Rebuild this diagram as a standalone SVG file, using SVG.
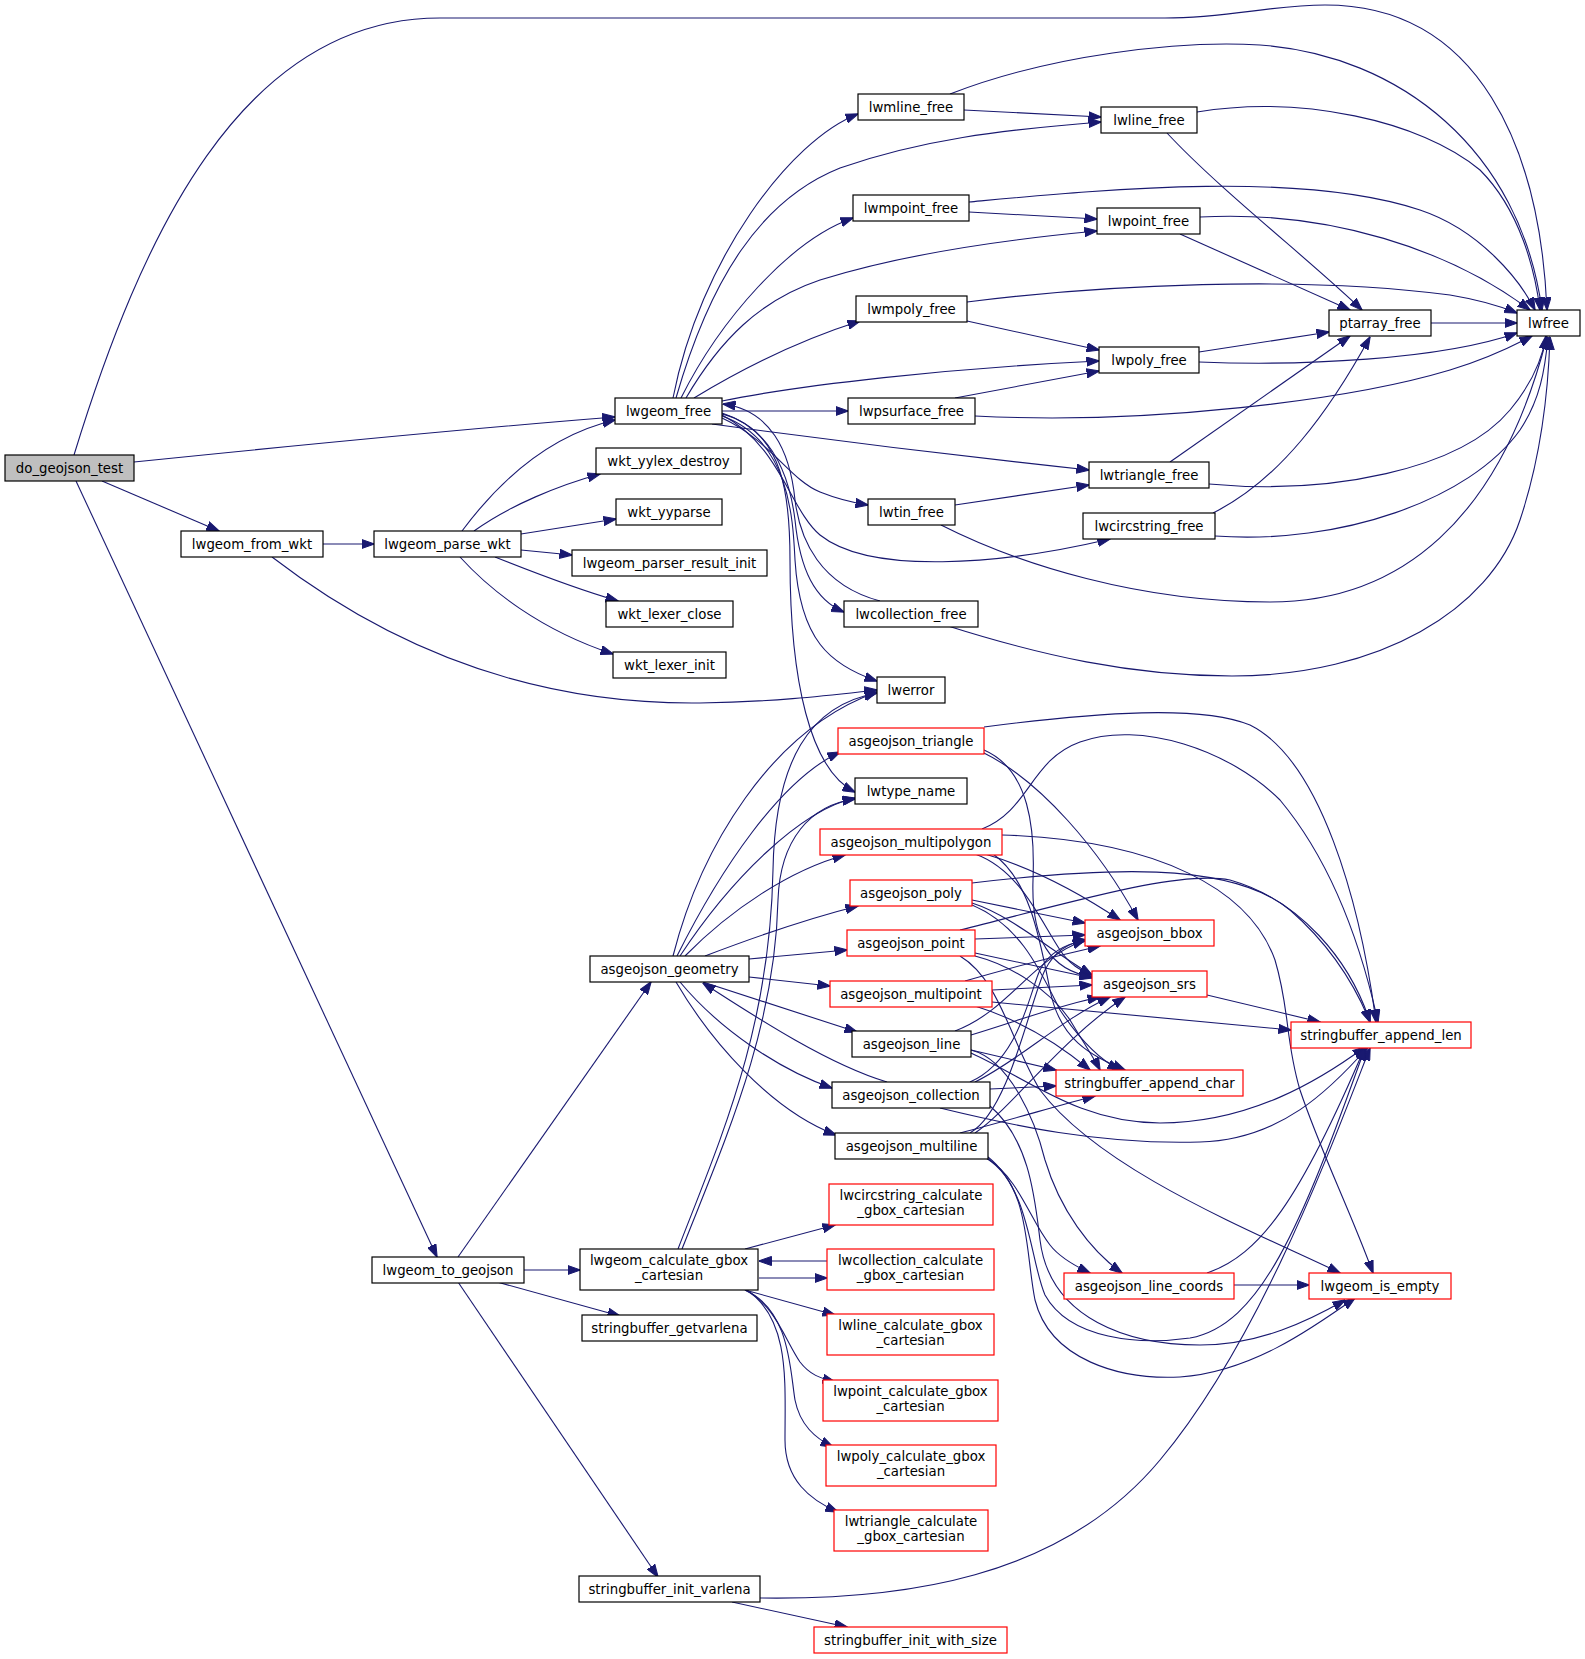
<svg xmlns="http://www.w3.org/2000/svg" width="1585" height="1659" viewBox="0 0 1585 1659">
<style>
.n rect{fill:#ffffff;stroke:#000000;stroke-width:1.2}
.r rect{fill:#ffffff;stroke:#ff0000;stroke-width:1.2}
.root rect{fill:#bfbfbf;stroke:#000000;stroke-width:1.2}
text{font-family:"DejaVu Sans","Liberation Sans",sans-serif;font-size:13.3px;text-anchor:middle;fill:#000}
#edges path{fill:none;stroke:#191970;stroke-width:1.1;marker-end:url(#a)}
</style>
<defs>
<marker id="a" viewBox="0 0 13 10" refX="12.5" refY="5" markerWidth="13" markerHeight="10" markerUnits="userSpaceOnUse" orient="auto">
<path d="M0,0.4 L13,5 L0,9.6 z" fill="#191970" stroke="#191970" stroke-width="1"/>
</marker>
</defs>
<rect width="1585" height="1659" fill="#ffffff"/>
<g id="edges">
<path d="M74,455 C140,240 240,18 440,18 L1165,18 C1230,18 1270,5 1325,5 C1480,5 1540,150 1547,310"/>
<path d="M134,462 C300,445 450,430 615,417"/>
<path d="M102,481 L219,531"/>
<path d="M76,481 L437,1257"/>
<path d="M323,544 L374,544"/>
<path d="M272,557 C380,640 520,705 700,703 C780,702 840,694 877,690"/>
<path d="M462,531 C500,480 550,435 615,420"/>
<path d="M474,531 C510,505 560,485 600,474"/>
<path d="M521,534 L616,519"/>
<path d="M521,550 L572,555"/>
<path d="M495,557 C540,575 580,590 618,601"/>
<path d="M460,557 C490,590 540,630 613,654"/>
<path d="M673,398 C700,260 790,140 858,114"/>
<path d="M676,398 C710,280 760,200 840,168 C920,140 1000,130 1101,122"/>
<path d="M681,398 C720,320 790,240 853,218"/>
<path d="M686,398 C720,340 760,300 820,280 C900,255 1000,240 1097,231"/>
<path d="M694,398 C740,370 800,340 860,321"/>
<path d="M722,401 C800,385 950,368 1099,361"/>
<path d="M722,411 L848,411"/>
<path d="M712,424 C800,436 950,455 1089,470"/>
<path d="M722,418 C770,440 790,480 820,492 C840,500 855,503 868,505"/>
<path d="M722,415 C780,445 790,510 820,535 C870,575 1000,565 1110,539"/>
<path d="M722,413 C775,430 790,480 795,520 C800,570 815,600 844,612"/>
<path d="M722,416 C790,440 793,520 795,560 C800,640 830,665 877,681"/>
<path d="M722,414 C785,430 790,500 790,560 C790,680 810,770 855,792"/>
<path d="M880,601 C820,585 800,540 795,500 C790,450 770,410 723,404"/>
<path d="M950,94 C1050,55 1180,40 1260,45 C1400,55 1520,150 1542,310"/>
<path d="M964,110 L1101,117"/>
<path d="M1197,112 C1300,95 1420,120 1480,170 C1520,210 1535,270 1540,310"/>
<path d="M1167,133 C1220,190 1310,260 1362,310"/>
<path d="M969,202 C1100,190 1300,170 1420,210 C1480,230 1520,280 1535,310"/>
<path d="M969,212 L1097,219"/>
<path d="M1200,217 C1330,210 1450,250 1530,310"/>
<path d="M1180,234 L1350,310"/>
<path d="M967,302 C1100,285 1300,275 1450,295 C1480,300 1500,306 1517,313"/>
<path d="M967,321 L1099,350"/>
<path d="M1431,323 L1517,323"/>
<path d="M1199,352 L1329,332"/>
<path d="M1199,362 C1300,366 1440,360 1517,333"/>
<path d="M955,398 L1099,371"/>
<path d="M975,416 C1150,425 1350,400 1450,370 C1490,358 1515,345 1532,336"/>
<path d="M1170,462 L1350,336"/>
<path d="M1209,484 C1330,495 1460,470 1510,410 C1535,380 1543,355 1546,336"/>
<path d="M955,505 L1089,485"/>
<path d="M941,525 C1020,565 1140,602 1270,602 C1400,602 1500,520 1547,337"/>
<path d="M1213,513 C1280,480 1330,410 1370,337"/>
<path d="M1215,536 C1340,545 1470,500 1520,430 C1540,400 1545,370 1548,337"/>
<path d="M948,626 C1040,655 1130,676 1232,676 C1380,676 1490,610 1520,520 C1540,460 1548,400 1550,337"/>
<path d="M673,956 C700,850 770,730 877,692"/>
<path d="M677,956 C720,870 780,780 840,752"/>
<path d="M680,956 C730,880 800,810 855,798"/>
<path d="M685,956 C730,910 790,870 845,855"/>
<path d="M705,956 C760,935 810,918 858,906"/>
<path d="M749,959 L847,950"/>
<path d="M749,977 L830,986"/>
<path d="M703,982 L857,1032"/>
<path d="M680,982 C720,1030 780,1070 832,1088"/>
<path d="M676,982 C710,1040 770,1110 836,1135"/>
<path d="M887,1082 C830,1065 760,1020 703,983"/>
<path d="M458,1257 L651,982"/>
<path d="M524,1270 L580,1270"/>
<path d="M497,1282 L620,1316"/>
<path d="M458,1282 L658,1577"/>
<path d="M732,1602 L847,1627"/>
<path d="M760,1598 C900,1600 1060,1580 1160,1460 C1260,1340 1330,1150 1370,1048"/>
<path d="M745,1249 L835,1225"/>
<path d="M759,1278 L827,1278"/>
<path d="M827,1261 L759,1261"/>
<path d="M745,1290 L835,1315"/>
<path d="M745,1290 C775,1305 785,1340 800,1362 C810,1375 820,1378 835,1382"/>
<path d="M745,1290 C790,1310 790,1370 795,1400 C800,1425 815,1438 833,1447"/>
<path d="M747,1290 C790,1320 785,1380 785,1440 C785,1480 810,1500 838,1512"/>
<path d="M678,1249 C720,1140 770,1030 773,870 C775,760 810,705 877,693"/>
<path d="M682,1249 C725,1140 775,1030 778,900 C780,840 810,805 855,799"/>
<path d="M984,727 C1100,712 1200,705 1250,725 C1320,760 1360,900 1376,1022"/>
<path d="M982,752 C1040,780 1100,850 1138,920"/>
<path d="M984,750 C1030,770 1035,830 1033,880 C1031,940 1050,970 1092,977"/>
<path d="M982,829 C1030,810 1030,760 1080,742 C1140,720 1230,750 1280,800 C1330,860 1360,940 1378,1022"/>
<path d="M1002,835 C1160,840 1250,890 1275,960 C1290,1010 1285,1040 1300,1090 C1320,1150 1350,1210 1373,1273"/>
<path d="M985,854 C1040,870 1090,900 1120,920"/>
<path d="M975,854 C1020,870 1040,920 1060,950 C1070,965 1080,970 1092,975"/>
<path d="M993,854 C1030,880 1040,940 1050,990 C1060,1040 1090,1055 1125,1070"/>
<path d="M972,883 C1100,868 1230,860 1290,910 C1330,945 1355,985 1370,1022"/>
<path d="M972,900 L1085,923"/>
<path d="M972,903 C1010,915 1050,950 1092,975"/>
<path d="M972,905 C1020,925 1040,970 1060,1010 C1080,1040 1100,1060 1120,1070"/>
<path d="M960,930 C1080,900 1180,870 1230,880 C1300,900 1350,960 1370,1022"/>
<path d="M975,939 L1085,935"/>
<path d="M975,953 L1092,978"/>
<path d="M975,956 C1010,965 1050,990 1070,1020 C1085,1045 1095,1060 1100,1070"/>
<path d="M960,956 C1000,980 1010,1040 1040,1090 C1100,1170 1250,1230 1340,1273"/>
<path d="M965,981 C1020,965 1060,955 1100,946"/>
<path d="M992,990 L1092,985"/>
<path d="M992,1002 C1100,1012 1200,1022 1291,1030"/>
<path d="M975,1006 C1020,1020 1060,1045 1090,1070"/>
<path d="M955,1031 C1010,1010 1030,960 1085,940"/>
<path d="M971,1035 C1020,1020 1060,1005 1100,997"/>
<path d="M971,1050 L1056,1070"/>
<path d="M971,1053 C1030,1080 1080,1123 1160,1123 C1250,1123 1320,1080 1365,1047"/>
<path d="M971,1050 C1010,1060 1035,1120 1045,1160 C1060,1210 1090,1250 1122,1273"/>
<path d="M990,1089 L1056,1086"/>
<path d="M970,1082 C1020,1060 1030,990 1040,970 C1050,950 1070,943 1086,940"/>
<path d="M975,1082 C1020,1060 1060,1020 1110,997"/>
<path d="M940,1108 C1010,1125 1100,1145 1200,1142 C1280,1140 1330,1090 1368,1047"/>
<path d="M990,1106 C1030,1140 1035,1200 1040,1240 C1050,1320 1130,1345 1200,1345 C1260,1345 1310,1320 1345,1300"/>
<path d="M987,1158 C1020,1180 1030,1220 1050,1245 C1060,1258 1075,1266 1090,1273"/>
<path d="M986,1158 C1030,1185 1025,1250 1035,1300 C1050,1360 1120,1380 1180,1377 C1250,1372 1310,1330 1355,1298"/>
<path d="M988,1157 C1030,1190 1030,1260 1045,1295 C1070,1340 1140,1345 1190,1338 C1260,1325 1300,1230 1365,1048"/>
<path d="M975,1133 C1010,1110 1060,1040 1125,997"/>
<path d="M970,1133 C1010,1110 1030,1000 1045,970 C1055,950 1070,942 1087,940"/>
<path d="M960,1133 C1010,1120 1060,1105 1095,1096"/>
<path d="M1207,995 L1320,1022"/>
<path d="M1234,1285 L1309,1285"/>
<path d="M1207,1273 C1260,1255 1300,1200 1365,1047"/>
</g>
<g id="do_geojson_test" class="root"><rect x="5" y="455" width="129" height="26"/><text x="69.5" y="472.5">do_geojson_test</text></g>
<g id="lwgeom_free" class="n"><rect x="615" y="398" width="107" height="26"/><text x="668.5" y="415.5">lwgeom_free</text></g>
<g id="wkt_yylex_destroy" class="n"><rect x="596" y="448" width="145" height="26"/><text x="668.5" y="465.5">wkt_yylex_destroy</text></g>
<g id="wkt_yyparse" class="n"><rect x="616" y="499" width="106" height="26"/><text x="669" y="516.5">wkt_yyparse</text></g>
<g id="lwgeom_parser_result_init" class="n"><rect x="572" y="550" width="195" height="26"/><text x="669.5" y="567.5">lwgeom_parser_result_init</text></g>
<g id="wkt_lexer_close" class="n"><rect x="606" y="601" width="127" height="26"/><text x="669.5" y="618.5">wkt_lexer_close</text></g>
<g id="wkt_lexer_init" class="n"><rect x="613" y="652" width="113" height="26"/><text x="669.5" y="669.5">wkt_lexer_init</text></g>
<g id="lwgeom_from_wkt" class="n"><rect x="181" y="531" width="142" height="26"/><text x="252" y="548.5">lwgeom_from_wkt</text></g>
<g id="lwgeom_parse_wkt" class="n"><rect x="374" y="531" width="147" height="26"/><text x="447.5" y="548.5">lwgeom_parse_wkt</text></g>
<g id="lwmline_free" class="n"><rect x="858" y="94" width="106" height="26"/><text x="911" y="111.5">lwmline_free</text></g>
<g id="lwline_free" class="n"><rect x="1101" y="107" width="96" height="26"/><text x="1149" y="124.5">lwline_free</text></g>
<g id="lwmpoint_free" class="n"><rect x="853" y="195" width="116" height="26"/><text x="911" y="212.5">lwmpoint_free</text></g>
<g id="lwpoint_free" class="n"><rect x="1097" y="208" width="103" height="26"/><text x="1148.5" y="225.5">lwpoint_free</text></g>
<g id="lwmpoly_free" class="n"><rect x="856" y="296" width="111" height="26"/><text x="911.5" y="313.5">lwmpoly_free</text></g>
<g id="ptarray_free" class="n"><rect x="1329" y="310" width="102" height="26"/><text x="1380" y="327.5">ptarray_free</text></g>
<g id="lwfree" class="n"><rect x="1517" y="310" width="63" height="26"/><text x="1548.5" y="327.5">lwfree</text></g>
<g id="lwpoly_free" class="n"><rect x="1099" y="347" width="100" height="26"/><text x="1149" y="364.5">lwpoly_free</text></g>
<g id="lwpsurface_free" class="n"><rect x="848" y="398" width="127" height="26"/><text x="911.5" y="415.5">lwpsurface_free</text></g>
<g id="lwtriangle_free" class="n"><rect x="1089" y="462" width="120" height="26"/><text x="1149" y="479.5">lwtriangle_free</text></g>
<g id="lwtin_free" class="n"><rect x="868" y="499" width="87" height="26"/><text x="911.5" y="516.5">lwtin_free</text></g>
<g id="lwcircstring_free" class="n"><rect x="1083" y="513" width="132" height="26"/><text x="1149" y="530.5">lwcircstring_free</text></g>
<g id="lwcollection_free" class="n"><rect x="844" y="601" width="134" height="26"/><text x="911" y="618.5">lwcollection_free</text></g>
<g id="lwerror" class="n"><rect x="877" y="677" width="68" height="26"/><text x="911" y="694.5">lwerror</text></g>
<g id="asgeojson_triangle" class="r"><rect x="838" y="728" width="146" height="26"/><text x="911" y="745.5">asgeojson_triangle</text></g>
<g id="lwtype_name" class="n"><rect x="855" y="778" width="112" height="26"/><text x="911" y="795.5">lwtype_name</text></g>
<g id="asgeojson_multipolygon" class="r"><rect x="820" y="829" width="182" height="26"/><text x="911" y="846.5">asgeojson_multipolygon</text></g>
<g id="asgeojson_poly" class="r"><rect x="850" y="880" width="122" height="26"/><text x="911" y="897.5">asgeojson_poly</text></g>
<g id="asgeojson_point" class="r"><rect x="847" y="930" width="128" height="26"/><text x="911" y="947.5">asgeojson_point</text></g>
<g id="asgeojson_geometry" class="n"><rect x="590" y="956" width="159" height="26"/><text x="669.5" y="973.5">asgeojson_geometry</text></g>
<g id="asgeojson_multipoint" class="r"><rect x="830" y="981" width="162" height="26"/><text x="911" y="998.5">asgeojson_multipoint</text></g>
<g id="asgeojson_line" class="n"><rect x="852" y="1031" width="119" height="26"/><text x="911.5" y="1048.5">asgeojson_line</text></g>
<g id="asgeojson_collection" class="n"><rect x="832" y="1082" width="158" height="26"/><text x="911" y="1099.5">asgeojson_collection</text></g>
<g id="asgeojson_multiline" class="n"><rect x="835" y="1133" width="153" height="26"/><text x="911.5" y="1150.5">asgeojson_multiline</text></g>
<g id="lwcircstring_calculate_gbox_cartesian" class="r"><rect x="829" y="1184" width="164" height="41"/><text x="911" y="1200">lwcircstring_calculate</text><text x="911" y="1215">_gbox_cartesian</text></g>
<g id="lwcollection_calculate_gbox_cartesian" class="r"><rect x="827" y="1249" width="167" height="41"/><text x="910.5" y="1265">lwcollection_calculate</text><text x="910.5" y="1280">_gbox_cartesian</text></g>
<g id="lwline_calculate_gbox_cartesian" class="r"><rect x="827" y="1314" width="167" height="41"/><text x="910.5" y="1330">lwline_calculate_gbox</text><text x="910.5" y="1345">_cartesian</text></g>
<g id="lwpoint_calculate_gbox_cartesian" class="r"><rect x="823" y="1380" width="175" height="41"/><text x="910.5" y="1396">lwpoint_calculate_gbox</text><text x="910.5" y="1411">_cartesian</text></g>
<g id="lwpoly_calculate_gbox_cartesian" class="r"><rect x="826" y="1445" width="170" height="41"/><text x="911" y="1461">lwpoly_calculate_gbox</text><text x="911" y="1476">_cartesian</text></g>
<g id="lwtriangle_calculate_gbox_cartesian" class="r"><rect x="834" y="1510" width="154" height="41"/><text x="911" y="1526">lwtriangle_calculate</text><text x="911" y="1541">_gbox_cartesian</text></g>
<g id="lwgeom_calculate_gbox_cartesian" class="n"><rect x="580" y="1249" width="178" height="41"/><text x="669" y="1265">lwgeom_calculate_gbox</text><text x="669" y="1280">_cartesian</text></g>
<g id="stringbuffer_getvarlena" class="n"><rect x="582" y="1315" width="175" height="26"/><text x="669.5" y="1332.5">stringbuffer_getvarlena</text></g>
<g id="lwgeom_to_geojson" class="n"><rect x="372" y="1257" width="152" height="26"/><text x="448" y="1274.5">lwgeom_to_geojson</text></g>
<g id="stringbuffer_init_varlena" class="n"><rect x="579" y="1576" width="181" height="26"/><text x="669.5" y="1593.5">stringbuffer_init_varlena</text></g>
<g id="stringbuffer_init_with_size" class="r"><rect x="814" y="1627" width="193" height="26"/><text x="910.5" y="1644.5">stringbuffer_init_with_size</text></g>
<g id="asgeojson_bbox" class="r"><rect x="1085" y="920" width="129" height="26"/><text x="1149.5" y="937.5">asgeojson_bbox</text></g>
<g id="asgeojson_srs" class="r"><rect x="1092" y="971" width="115" height="26"/><text x="1149.5" y="988.5">asgeojson_srs</text></g>
<g id="stringbuffer_append_len" class="r"><rect x="1291" y="1022" width="180" height="26"/><text x="1381" y="1039.5">stringbuffer_append_len</text></g>
<g id="stringbuffer_append_char" class="r"><rect x="1056" y="1070" width="187" height="26"/><text x="1149.5" y="1087.5">stringbuffer_append_char</text></g>
<g id="asgeojson_line_coords" class="r"><rect x="1064" y="1273" width="170" height="26"/><text x="1149" y="1290.5">asgeojson_line_coords</text></g>
<g id="lwgeom_is_empty" class="r"><rect x="1309" y="1273" width="142" height="26"/><text x="1380" y="1290.5">lwgeom_is_empty</text></g>
</svg>
